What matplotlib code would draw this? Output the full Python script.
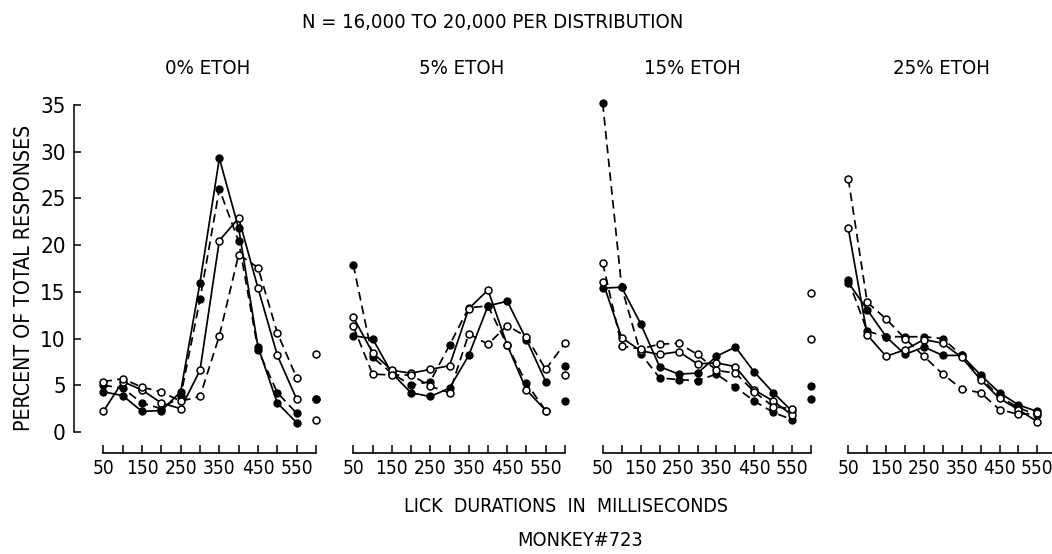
import matplotlib
matplotlib.use("Agg")
import matplotlib.pyplot as plt
from matplotlib import font_manager
from matplotlib.font_manager import FontProperties

# narrow lettering if the system has one, else plain DejaVu
narrow = [f for f in font_manager.fontManager.ttflist
          if (f.stretch in ("condensed", "semi-condensed", "extra-condensed")
              or "Narrow" in f.name or "Condensed" in f.name)
          and f.style == "normal" and f.weight in (400, "normal", "regular")]
if narrow:
    fp = FontProperties(fname=narrow[0].fname)
else:
    fp = FontProperties(family="DejaVu Sans")

# ---- data (percent of total responses) ----
durations = [50, 100, 150, 200, 250, 300, 350, 400, 450, 500, 550]
extra_x = 600
tick_labels = ["50", "", "150", "", "250", "", "350", "", "450", "", "550", ""]
panel_titles = ["0% ETOH", "5% ETOH", "15% ETOH", "25% ETOH"]

etoh0_solid_filled = [4.3, 3.9, 2.2, 2.3, 4.3, 16.0, 29.3, 21.8, 9.1, 3.1, 1.0]
etoh0_dash_filled = [5.0, 4.7, 3.1, 2.5, 3.8, 14.2, 26.0, 20.4, 8.8, 4.2, 2.0]
etoh0_solid_open = [2.2, 5.4, 4.5, 3.1, 2.5, 6.6, 20.5, 22.9, 15.4, 8.2, 3.5]
etoh0_dash_open = [5.4, 5.7, 4.8, 4.3, 3.3, 3.8, 10.3, 19.0, 17.6, 10.6, 5.8]
etoh0_extra_filled = [3.5, 3.5]
etoh0_extra_open = [8.3, 1.3]

etoh5_solid_filled = [10.3, 10.0, 6.3, 4.2, 3.8, 4.7, 8.2, 13.5, 14.0, 9.9, 5.4]
etoh5_dash_filled = [17.9, 8.0, 6.3, 5.0, 5.4, 9.3, 13.3, 13.5, 9.3, 5.2, 2.3]
etoh5_solid_open = [12.3, 8.5, 6.6, 6.3, 6.7, 7.1, 13.2, 15.2, 9.3, 4.5, 2.3]
etoh5_dash_open = [11.3, 6.2, 6.1, 6.1, 4.9, 4.2, 10.5, 9.4, 11.4, 10.2, 6.7]
etoh5_dash_open_tail = 9.5
etoh5_extra_filled = [7.1, 3.3]
etoh5_extra_open = [6.1]

etoh15_solid_filled = [15.4, 15.5, 11.6, 7.0, 6.2, 6.3, 8.1, 9.1, 6.4, 4.2, 2.2]
etoh15_dash_filled = [35.2, 15.5, 8.4, 5.8, 5.6, 5.5, 6.2, 4.8, 3.3, 2.1, 1.3]
etoh15_solid_open = [16.1, 10.1, 8.7, 8.3, 8.6, 7.3, 7.4, 7.0, 4.5, 3.3, 1.8]
etoh15_dash_open = [18.1, 9.2, 8.9, 9.4, 9.5, 8.3, 6.6, 6.3, 4.3, 2.7, 2.5]
etoh15_extra_filled = [4.9, 3.5]
etoh15_extra_open = [14.9, 10.0]

etoh25_solid_filled = [16.0, 13.1, 10.2, 8.3, 9.1, 8.2, 8.2, 6.1, 4.2, 2.9, 2.2]
etoh25_dash_filled = [16.3, 10.8, 10.2, 10.2, 10.2, 10.0, 8.2, 5.8, 3.8, 2.6, 1.8]
etoh25_solid_open = [21.8, 10.4, 8.1, 8.8, 9.9, 9.5, 8.0, 5.6, 3.6, 2.4, 1.1]
etoh25_dash_open = [27.1, 13.9, 12.1, 10.0, 8.1, 6.2, 4.6, 4.2, 2.4, 1.9, 2.0]
etoh25_extra_filled = []
etoh25_extra_open = [6.7]

panels = [
    (etoh0_solid_filled, etoh0_dash_filled, etoh0_solid_open, etoh0_dash_open,
     etoh0_extra_filled, etoh0_extra_open),
    (etoh5_solid_filled, etoh5_dash_filled, etoh5_solid_open, etoh5_dash_open,
     etoh5_extra_filled, etoh5_extra_open),
    (etoh15_solid_filled, etoh15_dash_filled, etoh15_solid_open, etoh15_dash_open,
     etoh15_extra_filled, etoh15_extra_open),
    (etoh25_solid_filled, etoh25_dash_filled, etoh25_solid_open, etoh25_dash_open,
     etoh25_extra_filled, etoh25_extra_open),
]

# ---- layout in pixels ----
W, H = 1052, 554
fig = plt.figure(figsize=(W / 100, H / 100), dpi=100)
rend = fig.canvas.get_renderer()


def size_for(text, target_px, rotation=0):
    # font size that makes `text` span target_px (width, or height if rotated)
    t = fig.text(0, 0, text, fontproperties=fp, fontsize=20, rotation=rotation)
    bb = t.get_window_extent(renderer=rend)
    t.remove()
    cur = bb.height if rotation else bb.width
    return 20 * target_px / cur


fs_title = size_for("N = 16,000 TO 20,000 PER DISTRIBUTION", 383)
fs_xlab = size_for("LICK  DURATIONS  IN  MILLISECONDS", 323)
fs_monk = size_for("MONKEY#723", 126)
fs_ylab = size_for("PERCENT OF TOTAL RESPONSES", 305, rotation=90)
fs_xtick = min(14, size_for("150 ", 38))
fs_ytick = 16

x50_px = [103.3, 353.3, 602.7, 848.3]
x550_px = [296.7, 545.7, 792.3, 1037.3]
title_cx = [208, 462, 692, 941]
y_bot, y_top = -2.25, 37
ypx_bot = 453
ypx_top = 432 - 37 * 9.34

lw = 1.25
ms = 5.0
dash = (5, 3)

for i, (sf, df, so, do, ef, eo) in enumerate(panels):
    scale = (x550_px[i] - x50_px[i]) / 500.0
    xmin = -40 if i == 0 else 0
    xmax = 630
    left_px = x50_px[i] + (xmin - 50) * scale
    width_px = (xmax - xmin) * scale
    ax = fig.add_axes([left_px / W, 1 - ypx_bot / H, width_px / W,
                       (ypx_bot - ypx_top) / H])
    ax.patch.set_alpha(0)
    ax.set_xlim(xmin, xmax)
    ax.set_ylim(y_bot, y_top)

    ax.plot(durations, sf, "-", color="black", lw=lw, marker="o", ms=ms,
            mfc="black", mec="black", clip_on=False)
    ax.plot(durations, df, color="black", lw=lw, ls=(0, dash), marker="o", ms=ms,
            mfc="black", mec="black", clip_on=False)
    ax.plot(durations, so, "-", color="black", lw=lw, marker="o", ms=ms,
            mfc="white", mec="black", mew=1.1, clip_on=False, zorder=3)
    ax.plot(durations, do, color="black", lw=lw, ls=(0, dash), marker="o", ms=ms,
            mfc="white", mec="black", mew=1.1, clip_on=False, zorder=3)
    if i == 1:
        ax.plot([durations[-1], extra_x], [do[-1], etoh5_dash_open_tail], color="black",
                lw=lw, ls=(0, dash), clip_on=False)
        ax.plot([extra_x], [etoh5_dash_open_tail], "o", ms=ms, mfc="white",
                mec="black", mew=1.1, clip_on=False, zorder=3)
    if ef:
        ax.plot([extra_x] * len(ef), ef, "o", ms=ms, mfc="black", mec="black",
                ls="none", clip_on=False)
    if eo:
        ax.plot([extra_x] * len(eo), eo, "o", ms=ms, mfc="white", mec="black",
                mew=1.1, ls="none", clip_on=False, zorder=3)

    for s in ["top", "right"]:
        ax.spines[s].set_visible(False)
    ax.spines["bottom"].set_bounds(50, 600)
    ax.spines["bottom"].set_linewidth(1.2)
    ax.set_xticks(list(range(50, 601, 50)))
    ax.set_xticklabels(tick_labels, fontproperties=fp)
    ax.tick_params(axis="x", direction="in", length=6, width=1.1, pad=4,
                   labelsize=fs_xtick)

    if i == 0:
        spine_x = 50 - (x50_px[0] - 74) / scale
        ax.spines["left"].set_position(("data", spine_x))
        ax.spines["left"].set_bounds(0, 35)
        ax.spines["left"].set_linewidth(1.1)
        ax.set_yticks(range(0, 36, 5))
        ax.set_yticklabels([str(v) for v in range(0, 36, 5)], fontproperties=fp)
        ax.tick_params(axis="y", direction="in", length=5, width=1.1, pad=6,
                       labelsize=fs_ytick)
    else:
        ax.spines["left"].set_visible(False)
        ax.set_yticks([])

    fig.text(title_cx[i] / W, 1 - 69 / H, panel_titles[i], ha="center",
             va="center", fontproperties=fp, fontsize=fs_title)

fig.text(493 / W, 1 - 22 / H, "N = 16,000 TO 20,000 PER DISTRIBUTION",
         ha="center", va="center", fontproperties=fp, fontsize=fs_title)
fig.text(24 / W, 1 - 278 / H, "PERCENT OF TOTAL RESPONSES", ha="center",
         va="center", rotation=90, fontproperties=fp, fontsize=fs_ylab)
fig.text(566 / W, 1 - 507 / H, "LICK  DURATIONS  IN  MILLISECONDS",
         ha="center", va="center", fontproperties=fp, fontsize=fs_xlab)
fig.text(580 / W, 1 - 541 / H, "MONKEY#723", ha="center", va="center",
         fontproperties=fp, fontsize=fs_monk)

fig.savefig("out.png", dpi=100)
